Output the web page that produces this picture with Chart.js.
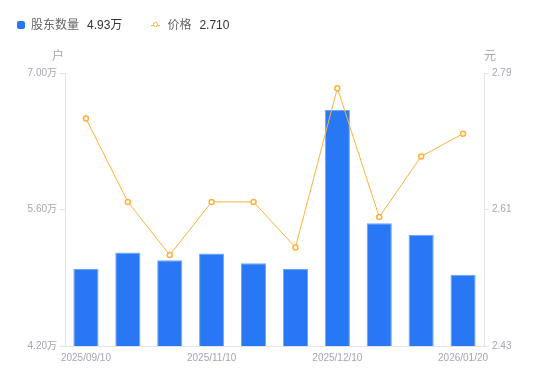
<!DOCTYPE html>
<html>
<head>
<meta charset="utf-8">
<script src="https://cdn.jsdelivr.net/npm/chart.js@4"></script>
<style>
  body { margin: 0; background: #fff; font-family: "Liberation Sans", "Noto Sans CJK SC", sans-serif; }
  #wrap { position: relative; width: 550px; height: 381px; }
  #legend { position: absolute; left: 17px; top: 17px; font-size: 12px; line-height: 16px; color: #666; display: flex; align-items: center; }
  #legend .item { display: flex; align-items: center; margin-right: 29px; }
  #legend .sq { width: 8px; height: 8px; border-radius: 2px; background: #2878F5; margin-right: 6px; }
  #legend .ln { position: relative; width: 9px; height: 9px; margin-right: 7px; }
  #legend .ln:before { content: ""; position: absolute; left: 0; right: 0; top: 4px; height: 1px; background: #FFB13D; }
  #legend .ln:after { content: ""; position: absolute; left: 1.5px; top: 1.5px; width: 3px; height: 3px; border: 1.5px solid #FFB13D; border-radius: 50%; background: #fff; }
  #legend .val { color: #333; margin-left: 8px; }
</style>
</head>
<body>
<div id="wrap">
  <div id="legend">
    <div class="item"><span class="sq"></span>股东数量<span class="val">4.93万</span></div>
    <div class="item"><span class="ln"></span>价格<span class="val">2.710</span></div>
  </div>
  <canvas id="chart" width="550" height="381"></canvas>
</div>
<script>
  // categories (report dates)
  var dates = ["2025/09/10", "2025/09/30", "2025/10/20", "2025/11/10", "2025/11/20",
               "2025/11/30", "2025/12/10", "2025/12/20", "2025/12/31", "2026/01/20"];
  // shareholder count, in 万户
  var holders = [4.99, 5.16, 5.08, 5.15, 5.05, 4.99, 6.62, 5.46, 5.34, 4.93];
  // price, 元
  var prices = [2.73, 2.62, 2.55, 2.62, 2.62, 2.56, 2.77, 2.60, 2.68, 2.71];
  // tick labels
  var holderTicks = [4.20, 5.60, 7.00];
  var priceTicks = [2.43, 2.61, 2.79];

  var tickColor = "#A3A5B3";
  var lineColor = "#E3E4E8";
  var fontFamily = "'Liberation Sans', 'Noto Sans CJK SC', sans-serif";

  // axis unit labels above each y axis
  var unitTitles = {
    id: "unitTitles",
    afterDraw: function (chart) {
      var ctx = chart.ctx;
      var yL = chart.scales.y, yR = chart.scales.y1;
      ctx.save();
      ctx.font = "12px " + fontFamily;
      ctx.fillStyle = tickColor;
      ctx.textAlign = "center";
      ctx.textBaseline = "middle";
      ctx.fillText("户", yL.right - 7, yL.top - 16);
      ctx.fillText("元", yR.left + 6, yR.top - 16);
      ctx.restore();
    }
  };

  var ctx = document.getElementById("chart").getContext("2d");
  new Chart(ctx, {
    data: {
      labels: dates,
      datasets: [
        {
          type: "line",
          label: "价格",
          data: prices,
          yAxisID: "y1",
          borderColor: "#FFB13D",
          borderWidth: 1,
          pointRadius: 2.5,
          pointBorderWidth: 1.5,
          pointBackgroundColor: "#fff",
          pointBorderColor: "#FFB13D",
          tension: 0,
          order: 0
        },
        {
          type: "bar",
          label: "股东数量",
          data: holders,
          yAxisID: "y",
          backgroundColor: "#2878F5",
          borderColor: "#6FA3F7",
          borderWidth: 1,
          barPercentage: 0.6,
          categoryPercentage: 1,
          order: 1
        }
      ]
    },
    options: {
      responsive: false,
      animation: false,
      layout: { padding: { top: 73, left: 0, right: 0, bottom: 0 } },
      plugins: { legend: { display: false }, tooltip: { enabled: false } },
      scales: {
        x: {
          offset: true,
          grid: { display: true, drawOnChartArea: false, drawTicks: false },
          border: { color: lineColor },
          ticks: {
            color: tickColor,
            font: { size: 10, family: fontFamily },
            autoSkip: false,
            maxRotation: 0,
            padding: 6,
            callback: function (v, i) { return i % 3 === 0 ? dates[i] : ""; }
          },
          afterFit: function (s) { s.height = 35; }
        },
        y: {
          position: "left",
          min: 4.2,
          max: 7.0,
          grid: { drawOnChartArea: false, tickLength: 5, color: lineColor },
          border: { color: lineColor },
          afterBuildTicks: function (s) { s.ticks = holderTicks.map(function (v) { return { value: v }; }); },
          ticks: {
            color: tickColor,
            font: { size: 10, family: fontFamily },
            padding: 3,
            callback: function (v) { return v.toFixed(2) + "万"; }
          },
          afterFit: function (s) { s.width = 65; }
        },
        y1: {
          position: "right",
          min: 2.43,
          max: 2.79,
          grid: { drawOnChartArea: false, tickLength: 5, color: lineColor },
          border: { color: lineColor },
          afterBuildTicks: function (s) { s.ticks = priceTicks.map(function (v) { return { value: v }; }); },
          ticks: {
            color: tickColor,
            font: { size: 10, family: fontFamily },
            padding: 3,
            callback: function (v) { return v.toFixed(2); }
          },
          afterFit: function (s) { s.width = 66; }
        }
      }
    },
    plugins: [unitTitles]
  });
</script>
</body>
</html>
